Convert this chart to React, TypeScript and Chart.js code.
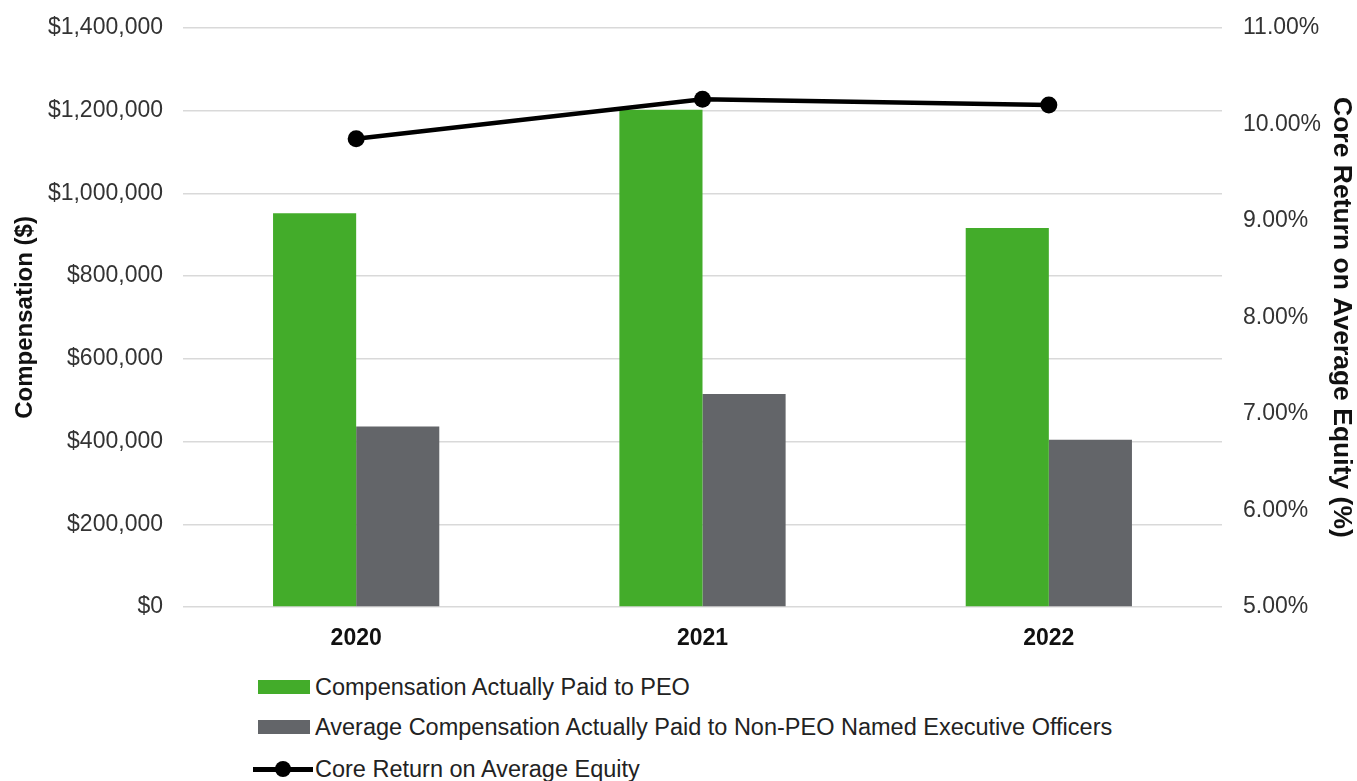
import React, { useEffect, useRef } from "react";
import { Chart, registerables } from "chart.js";

Chart.register(...registerables);

const years = ["2020", "2021", "2022"];
const peoComp = [952000, 1202000, 916000];
const neoComp = [436000, 515000, 404000];
const coreRoae = [9.85, 10.26, 10.2];

const seriesNames = [
  "Compensation Actually Paid to PEO",
  "Average Compensation Actually Paid to Non-PEO Named Executive Officers",
  "Core Return on Average Equity",
];
const leftTitle = "Compensation ($)";
const rightTitle = "Core Return on Average Equity (%)";

const GREEN = "#43ac2a";
const GRAY = "#636569";
const FONT = "'Liberation Sans', Arial, Helvetica, sans-serif";

export default function App() {
  const ref = useRef<HTMLCanvasElement | null>(null);

  useEffect(() => {
    if (!ref.current) return;
    const chart = new Chart(ref.current, {
      type: "bar",
      data: {
        labels: years,
        datasets: [
          {
            type: "line",
            label: seriesNames[2],
            data: coreRoae,
            yAxisID: "y1",
            borderColor: "#000000",
            backgroundColor: "#000000",
            borderWidth: 4.5,
            pointRadius: 8.5,
            pointBackgroundColor: "#000000",
            pointBorderWidth: 0,
            tension: 0,
            order: 0,
          } as any,
          {
            type: "bar",
            label: seriesNames[0],
            data: peoComp,
            yAxisID: "y",
            backgroundColor: GREEN,
            borderWidth: 0,
            categoryPercentage: 0.48,
            barPercentage: 1,
            order: 1,
          },
          {
            type: "bar",
            label: seriesNames[1],
            data: neoComp,
            yAxisID: "y",
            backgroundColor: GRAY,
            borderWidth: 0,
            categoryPercentage: 0.48,
            barPercentage: 1,
            order: 1,
          },
        ],
      },
      options: {
        responsive: false,
        animation: false,
        layout: { padding: { top: 0, left: 0, right: 0, bottom: 0 } },
        plugins: {
          legend: { display: false },
          tooltip: { enabled: false },
        },
        scales: {
          x: {
            grid: { display: false },
            border: { display: false },
            ticks: {
              color: "#111111",
              padding: 10,
              font: { family: FONT, size: 23, weight: "bold" },
            },
            afterFit: (s: any) => {
              s.height = 58;
            },
          },
          y: {
            position: "left",
            min: 0,
            max: 1400000,
            grid: { color: "#d9d9d9", lineWidth: 1.5, drawTicks: false },
            border: { display: false },
            ticks: {
              stepSize: 200000,
              padding: 20,
              color: "#333333",
              font: { family: FONT, size: 23 },
              callback: (v: any) => "$" + Number(v).toLocaleString("en-US"),
            },
            title: {
              display: true,
              text: leftTitle,
              color: "#111111",
              padding: { top: 11, bottom: 0 },
              font: { family: FONT, size: 24, weight: "bold" },
            },
            afterFit: (s: any) => {
              s.width = 183;
            },
          },
          y1: {
            position: "right",
            min: 5,
            max: 11,
            grid: { display: false, drawTicks: false },
            border: { display: false },
            ticks: {
              stepSize: 1,
              padding: 21,
              color: "#333333",
              font: { family: FONT, size: 23 },
              callback: (v: any) => Number(v).toFixed(2) + "%",
            },
            title: {
              display: true,
              text: rightTitle,
              color: "#111111",
              padding: { top: 0, bottom: 0 },
              font: { family: FONT, size: 26.5, weight: "bold" },
            },
            afterFit: (s: any) => {
              s.width = 135;
            },
          },
        },
      },
    });
    return () => chart.destroy();
  }, []);

  const rowStyle = (top: number): React.CSSProperties => ({
    position: "absolute",
    left: 253,
    top,
    height: 26,
    display: "flex",
    alignItems: "center",
    fontFamily: FONT,
    fontSize: 23.5,
    color: "#222222",
    whiteSpace: "nowrap",
  });

  return (
    <div
      style={{
        position: "absolute",
        left: 0,
        top: 0,
        width: 1357,
        height: 781,
        background: "#ffffff",
        overflow: "hidden",
      }}
    >
      <canvas
        ref={ref}
        width={1357}
        height={672}
        style={{ display: "block", position: "absolute", left: 0, top: -7 }}
      />
      <div style={rowStyle(674)}>
        <span style={{ display: "inline-block", width: 52, height: 14, background: GREEN, marginLeft: 5, marginRight: 5 }} />
        <span>{seriesNames[0]}</span>
      </div>
      <div style={rowStyle(714)}>
        <span style={{ display: "inline-block", width: 52, height: 14, background: GRAY, marginLeft: 5, marginRight: 5 }} />
        <span>{seriesNames[1]}</span>
      </div>
      <div style={rowStyle(756)}>
        <span style={{ position: "relative", display: "inline-block", width: 60, height: 18, marginRight: 2 }}>
          <span style={{ position: "absolute", left: 0, top: 7, width: 60, height: 5, background: "#000" }} />
          <span style={{ position: "absolute", left: 22, top: 1, width: 16, height: 16, borderRadius: 8, background: "#000" }} />
        </span>
        <span>{seriesNames[2]}</span>
      </div>
    </div>
  );
}
